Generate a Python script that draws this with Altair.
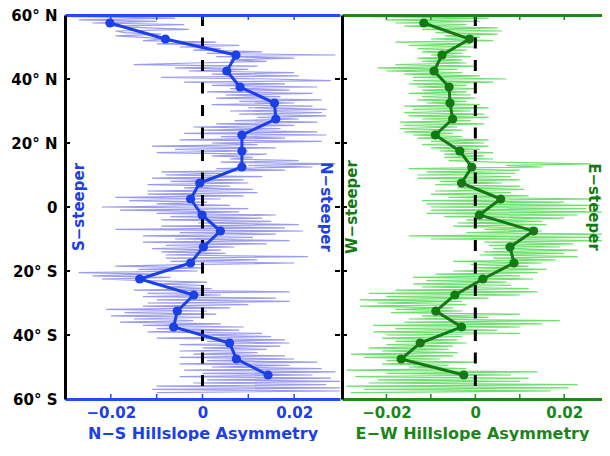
import altair as alt
import pandas as pd

# ---------------- data ----------------
lat_bin = [57.5, 52.5, 47.5, 42.5, 37.5, 32.5, 27.5, 22.5, 17.5, 12.5, 7.5, 2.5,
           -2.5, -7.5, -12.5, -17.5, -22.5, -27.5, -32.5, -37.5, -42.5, -47.5, -52.5]

ns_bin = [-0.0202, -0.0081, 0.0073, 0.0053, 0.0082, 0.0157, 0.0160, 0.0086, 0.0086, 0.0086,
          -0.0006, -0.0026, -0.0001, 0.0039, 0.0002, -0.0026, -0.0137, -0.0019, -0.0055,
          -0.0063, 0.0059, 0.0074, 0.0143]

ew_bin = [-0.0116, -0.0013, -0.0075, -0.0093, -0.0059, -0.0057, -0.0051, -0.0090, -0.0035,
          -0.0008, -0.0031, 0.0057, 0.0009, 0.0131, 0.0078, 0.0087, 0.0017, -0.0046, -0.0089,
          -0.0031, -0.0124, -0.0167, -0.0026]

# fine-resolution profiles, 0.5 deg steps from 59.5 N southwards
ns_fine = [
    -0.029, -0.006, -0.027, -0.010, -0.024, -0.004, -0.020, -0.012, -0.003, -0.019,
    -0.017, -0.009, -0.019, -0.013, -0.008, -0.013, 0.003, -0.010, 0.008, -0.005,
    0.004, -0.002, 0.013, 0.001, 0.029, 0.003, 0.020, 0.006, 0.014, -0.002,
    -0.015, 0.012, -0.006, 0.010, -0.003, 0.020, 0.002, 0.021, -0.009, 0.015,
    0.028, -0.004, 0.018, 0.002, 0.025, 0.006, 0.019, 0.001, 0.024, 0.005,
    0.017, 0.003, 0.026, 0.008, 0.020, 0.002, 0.024, 0.010, 0.027, 0.006,
    0.026, 0.008, 0.027, 0.012, 0.021, 0.007, 0.025, 0.003, 0.020, -0.002,
    0.017, 0.000, 0.025, -0.004, 0.027, 0.004, 0.018, -0.005, 0.026, 0.002,
    0.012, -0.011, 0.016, -0.006, 0.010, -0.010, 0.014, 0.002, 0.011, 0.006,
    0.021, 0.004, 0.029, 0.010, 0.024, 0.003, 0.018, -0.009, 0.004, -0.008,
    0.013, -0.011, 0.009, -0.007, 0.010, -0.012, 0.006, -0.004, 0.011, -0.012,
    0.012, -0.012, 0.009, -0.019, 0.004, -0.016, 0.001, -0.010, 0.006, -0.022,
    0.010, -0.018, 0.008, -0.010, 0.016, -0.007, 0.013, -0.009, 0.015, -0.001,
    0.021, -0.009, 0.018, -0.019, 0.022, -0.005, 0.016, -0.013, 0.011, -0.006,
    0.019, -0.013, 0.014, -0.008, 0.007, -0.011, 0.004, -0.009, 0.005, -0.008,
    0.023, -0.008, 0.012, -0.007, 0.020, -0.004, -0.019, 0.000, -0.014, -0.001,
    -0.027, -0.010, -0.024, -0.007, -0.022, -0.013, 0.001, -0.011, 0.000, -0.008,
    0.002, -0.015, 0.019, -0.012, 0.004, -0.013, 0.016, -0.010, 0.019, -0.012,
    0.010, -0.013, 0.006, -0.021, 0.001, -0.017, 0.003, -0.020, 0.000, -0.015,
    -0.002, -0.018, 0.004, -0.013, 0.009, -0.010, 0.008, -0.012, 0.013, -0.001,
    0.015, -0.010, 0.018, 0.001, 0.019, -0.005, 0.017, 0.000, 0.014, -0.005,
    0.012, -0.002, 0.018, -0.005, 0.020, 0.001, 0.025, -0.005, 0.019, 0.002,
    0.026, -0.004, 0.029, 0.000, 0.024, -0.005, 0.028, 0.001, 0.030, -0.002,
    0.027, -0.010, 0.030, -0.011, 0.030, -0.010,
]

ew_fine = [
    -0.024, 0.003, -0.020, 0.001, -0.018, -0.002, -0.016, 0.005, -0.012, 0.006,
    -0.009, 0.005, -0.007, 0.001, -0.010, 0.004, -0.018, -0.001, -0.015, 0.000,
    -0.013, -0.002, -0.012, -0.003, -0.010, -0.001, -0.013, -0.003, -0.012, -0.002,
    -0.018, 0.000, -0.022, -0.004, -0.020, -0.003, -0.016, 0.001, -0.014, 0.007,
    -0.014, 0.004, -0.015, -0.002, -0.013, 0.000, -0.012, -0.002, -0.015, -0.001,
    -0.012, 0.000, -0.013, -0.002, -0.011, 0.001, -0.016, 0.003, -0.014, -0.001,
    -0.016, 0.002, -0.015, 0.003, -0.012, -0.001, -0.017, 0.002, -0.016, -0.004,
    -0.017, -0.003, -0.016, -0.005, -0.014, -0.003, -0.013, 0.003, -0.010, 0.002,
    -0.012, 0.003, -0.010, 0.001, -0.008, 0.004, -0.007, 0.002, -0.007, 0.004,
    -0.006, 0.004, 0.026, 0.007, 0.015, -0.015, 0.010, -0.011, 0.009, -0.013,
    0.008, -0.013, 0.010, -0.008, 0.006, -0.009, 0.010, -0.004, 0.011, -0.009,
    0.008, -0.010, 0.012, -0.006, 0.029, -0.012, 0.020, -0.011, 0.028, -0.010,
    0.025, -0.010, 0.029, -0.011, 0.023, -0.007, 0.020, -0.002, 0.015, -0.004,
    0.016, -0.005, 0.014, 0.002, 0.015, -0.002, 0.029, -0.015, 0.028, -0.010,
    0.029, 0.002, 0.022, 0.003, 0.019, 0.004, 0.023, 0.002, 0.020, 0.001,
    0.023, 0.004, 0.018, -0.005, 0.015, -0.001, 0.012, 0.000, 0.016, -0.005,
    0.014, -0.009, 0.010, -0.014, 0.013, -0.011, 0.007, -0.014, 0.008, -0.012,
    0.012, -0.018, 0.014, -0.024, 0.010, -0.020, 0.003, -0.026, -0.003, -0.022,
    -0.002, -0.026, -0.005, -0.018, -0.003, -0.019, 0.010, -0.012, 0.003, -0.015,
    0.019, -0.016, 0.015, -0.023, 0.010, -0.018, 0.005, -0.023, 0.010, -0.020,
    -0.003, -0.021, -0.004, -0.018, -0.002, -0.020, -0.005, -0.024, -0.006, -0.021,
    -0.004, -0.028, -0.005, -0.025, -0.008, -0.020, 0.000, -0.021, -0.006, -0.015,
    -0.002, -0.029, 0.014, -0.020, 0.008, -0.027, 0.012, -0.022, 0.010, -0.024,
    0.023, -0.029, 0.021, -0.025, 0.017, -0.028,
]

fine_top = 59.5
fine_step = 0.5
lat_fine = [fine_top - fine_step * i for i in range(len(ns_fine))]

x_ticks = [-0.02, -0.01, 0, 0.01, 0.02]
x_label_vals = [-0.02, 0, 0.02]
y_ticks = [-60, -40, -20, 0, 20, 40, 60]
y_inner_ticks = [-40, -20, 0, 20, 40]
zero_span = [60, -56]

ns_side_labels = ["S−steeper", "N−steeper"]
ew_side_labels = ["W−steeper", "E−steeper"]
side_pos_ns = [-0.027, 0.027]
side_pos_ew = [-0.0277, 0.0268]
side_lat = [0, 0]

FONT = "DejaVu Sans"
H = 384
Y_DOMAIN = [-60, 60]


def panel(fine, binned, light, dark, frame, txt, title, side_labels, side_pos,
          width, x_domain, show_y_labels):
    xs = alt.Scale(domain=x_domain, nice=False, zero=False)
    ys = alt.Scale(domain=Y_DOMAIN, nice=False, zero=False)

    fine_df = pd.DataFrame({"lat": lat_fine, "v": fine, "i": list(range(len(fine)))})
    bin_df = pd.DataFrame({"lat": lat_bin, "v": binned, "i": list(range(len(binned)))})
    zero_df = pd.DataFrame({"lat": zero_span, "v": [0, 0]})
    xt_df = pd.DataFrame({"t": x_ticks})
    yt_df = pd.DataFrame({"t": y_inner_ticks})
    left_txt = pd.DataFrame({"v": [side_pos[0]], "lat": [side_lat[0]], "label": [side_labels[0]]})
    right_txt = pd.DataFrame({"v": [side_pos[1]], "lat": [side_lat[1]], "label": [side_labels[1]]})

    x_bottom = alt.Axis(
        orient="bottom", values=x_label_vals, format="~g",
        ticks=False, grid=False, domainColor=frame, domainWidth=3,
        labelColor=txt, labelFont=FONT, labelFontWeight="bold", labelFontSize=15,
        labelPadding=6, title=title, titleColor=txt, titleFont=FONT,
        titleFontWeight="bold", titleFontSize=16, titlePadding=5, zindex=3,
    )
    x_top = alt.Axis(orient="top", labels=False, ticks=False, grid=False,
                     domainColor=frame, domainWidth=3, title=None, zindex=3)
    if show_y_labels:
        y_left = alt.Axis(
            orient="left", values=y_ticks, ticks=False, grid=False,
            domainColor="black", domainWidth=3, labelColor="black",
            labelFont=FONT, labelFontWeight="bold", labelFontSize=15,
            labelPadding=8, title=None, zindex=3,
            labelExpr="datum.value > 0 ? datum.value + '° N' : (datum.value < 0 ? (-datum.value) + '° S' : '0')",
        )
    else:
        y_left = alt.Axis(orient="left", labels=False, ticks=False, grid=False,
                          domainColor="black", domainWidth=3, title=None, zindex=3)

    noise = alt.Chart(fine_df).mark_line(color=light, strokeWidth=1.2, clip=True).encode(
        x=alt.X("v:Q", scale=xs, axis=x_bottom),
        y=alt.Y("lat:Q", scale=ys, axis=y_left),
        order="i:Q",
    )
    zero = alt.Chart(zero_df).mark_line(color="black", strokeWidth=3, strokeDash=[11, 11.5]).encode(
        x=alt.X("v:Q", scale=xs, axis=None),
        y=alt.Y("lat:Q", scale=ys, axis=None),
    )
    xt_top = alt.Chart(xt_df).mark_rule(color=frame, strokeWidth=1.5).encode(
        x=alt.X("t:Q", scale=xs, axis=None), y=alt.value(0), y2=alt.value(5))
    xt_bot = alt.Chart(xt_df).mark_rule(color=frame, strokeWidth=1.5).encode(
        x=alt.X("t:Q", scale=xs, axis=None), y=alt.value(H), y2=alt.value(H - 5))
    yt_l = alt.Chart(yt_df).mark_rule(color="black", strokeWidth=2).encode(
        y=alt.Y("t:Q", scale=ys, axis=None), x=alt.value(0), x2=alt.value(5))
    yt_r = alt.Chart(yt_df).mark_rule(color="black", strokeWidth=2).encode(
        y=alt.Y("t:Q", scale=ys, axis=None), x=alt.value(width), x2=alt.value(width - 5))
    bin_line = alt.Chart(bin_df).mark_line(color=dark, strokeWidth=3).encode(
        x=alt.X("v:Q", scale=xs, axis=x_top),
        y=alt.Y("lat:Q", scale=ys, axis=None),
        order="i:Q",
    )
    pts = alt.Chart(bin_df).mark_circle(color=dark, size=85, opacity=1).encode(
        x=alt.X("v:Q", scale=xs, axis=None),
        y=alt.Y("lat:Q", scale=ys, axis=None),
    )
    t_left = alt.Chart(left_txt).mark_text(
        angle=270, align="center", baseline="middle", font=FONT,
        fontWeight="bold", fontSize=15, color=dark).encode(
        x=alt.X("v:Q", scale=xs, axis=None),
        y=alt.Y("lat:Q", scale=ys, axis=None), text="label:N")
    t_right = alt.Chart(right_txt).mark_text(
        angle=90, align="center", baseline="middle", font=FONT,
        fontWeight="bold", fontSize=15, color=dark).encode(
        x=alt.X("v:Q", scale=xs, axis=None),
        y=alt.Y("lat:Q", scale=ys, axis=None), text="label:N")

    layers = [noise, zero, xt_top, xt_bot, yt_l]
    if show_y_labels:
        layers.append(yt_r)
    layers += [bin_line, pts, t_left, t_right]
    return alt.layer(*layers).resolve_axis(x="independent", y="independent").properties(
        width=width, height=H)


left = panel(ns_fine, ns_bin, "#9b9bf0", "#1a40e6", "#1f4ff0", "#1a40e6",
             "N−S Hillslope Asymmetry", ns_side_labels, side_pos_ns, 275,
             [-0.03, 0.03], True)
right = panel(ew_fine, ew_bin, "#6ee06e", "#137a13", "#1a8a1a", "#1a861a",
              "E−W Hillslope Asymmetry", ew_side_labels, side_pos_ew, 260,
              [-0.03, 0.0285], False)

chart = alt.hconcat(left, right, spacing=0).properties(
    padding={"left": 2, "top": 0, "right": 0, "bottom": 0}
).configure_view(stroke=None)

chart.save("out.html", embed_options={"renderer": "svg", "actions": False})
